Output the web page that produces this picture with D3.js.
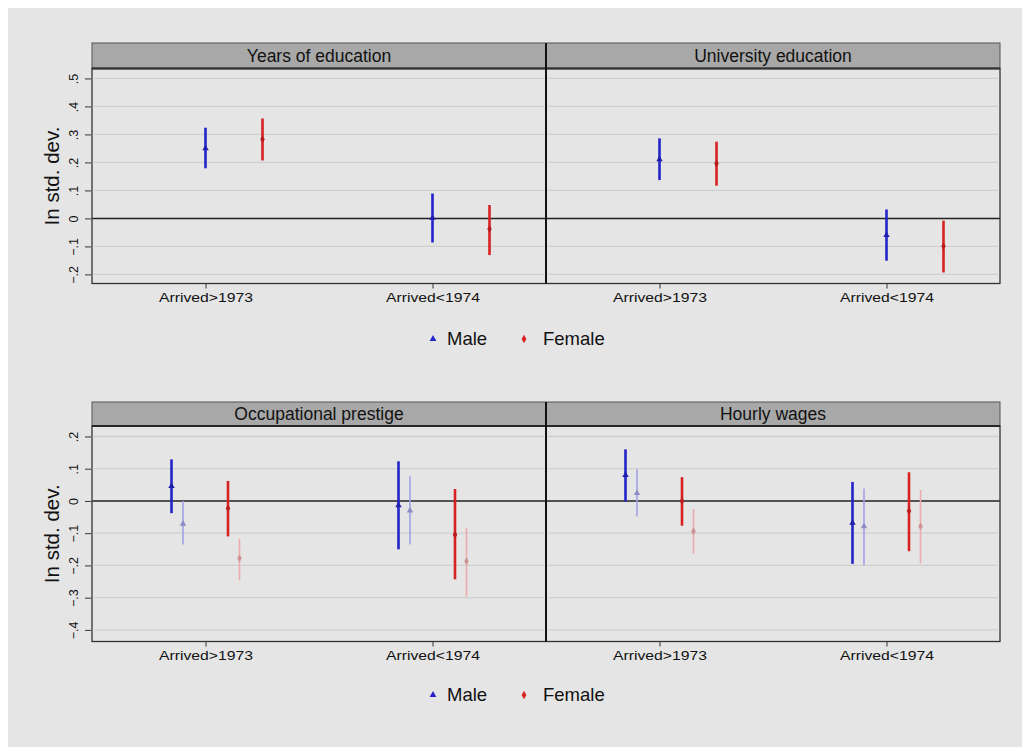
<!DOCTYPE html>
<html>
<head>
<meta charset="utf-8">
<script src="https://cdn.jsdelivr.net/npm/d3@7"></script>
<style>
  html, body { margin: 0; padding: 0; background: #fff; }
  svg { display: block; font-family: 'Liberation Sans', Arial, sans-serif; }
</style>
</head>
<body>
<svg id="chart" width="1022" height="747"></svg>
<script>
  'use strict';

  // categories and series
  var categories = ['Arrived>1973', 'Arrived<1974'];
  var topTitles = ['Years of education', 'University education'];
  var bottomTitles = ['Occupational prestige', 'Hourly wages'];
  var topSeries = ['Male', 'Female'];
  var bottomSeries = ['Male', 'Male (alt.)', 'Female', 'Female (alt.)'];
  var topTicks = [-0.2, -0.1, 0, 0.1, 0.2, 0.3, 0.4, 0.5];
  var bottomTicks = [-0.4, -0.3, -0.2, -0.1, 0, 0.1, 0.2];

  // [series, category, estimate, low, high]
  var yearsEducation = [
    ['Male', 'Arrived>1973', 0.250, 0.179, 0.324],
    ['Female', 'Arrived>1973', 0.283, 0.207, 0.357],
    ['Male', 'Arrived<1974', 0.002, -0.086, 0.089],
    ['Female', 'Arrived<1974', -0.038, -0.131, 0.048]
  ];
  var universityEducation = [
    ['Male', 'Arrived>1973', 0.211, 0.137, 0.286],
    ['Female', 'Arrived>1973', 0.196, 0.117, 0.274],
    ['Male', 'Arrived<1974', -0.060, -0.151, 0.032],
    ['Female', 'Arrived<1974', -0.099, -0.193, -0.008]
  ];
  var occupationalPrestige = [
    ['Male', 'Arrived>1973', 0.046, -0.038, 0.129],
    ['Male (alt.)', 'Arrived>1973', -0.071, -0.135, 0.000],
    ['Female', 'Arrived>1973', -0.023, -0.110, 0.062],
    ['Female (alt.)', 'Arrived>1973', -0.178, -0.246, -0.117],
    ['Male', 'Arrived<1974', -0.014, -0.150, 0.123],
    ['Male (alt.)', 'Arrived<1974', -0.030, -0.135, 0.077],
    ['Female', 'Arrived<1974', -0.105, -0.243, 0.037],
    ['Female (alt.)', 'Arrived<1974', -0.187, -0.297, -0.084]
  ];
  var hourlyWages = [
    ['Male', 'Arrived>1973', 0.080, -0.002, 0.160],
    ['Male (alt.)', 'Arrived>1973', 0.024, -0.048, 0.098],
    ['Female', 'Arrived>1973', 0.000, -0.077, 0.074],
    ['Female (alt.)', 'Arrived>1973', -0.094, -0.164, -0.025],
    ['Male', 'Arrived<1974', -0.068, -0.195, 0.059],
    ['Male (alt.)', 'Arrived<1974', -0.079, -0.199, 0.039],
    ['Female', 'Arrived<1974', -0.031, -0.156, 0.089],
    ['Female (alt.)', 'Arrived<1974', -0.079, -0.194, 0.034]
  ];

  var styles = {
    'Male': { color: '#2424c8', width: 2.6, shape: d3.symbolTriangle },
    'Female': { color: '#d82222', width: 2.6, shape: d3.symbolDiamond },
    'Male (alt.)': { color: '#a2a2e4', width: 1.6, shape: d3.symbolTriangle },
    'Female (alt.)': { color: '#ecaaaa', width: 1.6, shape: d3.symbolDiamond }
  };

  var svg = d3.select('#chart');
  svg.append('rect')
    .attr('x', 8).attr('y', 8).attr('width', 1014).attr('height', 739)
    .attr('fill', '#e5e5e5');

  var xLeft = 92, xMid = 546, xRight = 1000;

  function fmt(v) {
    if (Math.abs(v) < 1e-9) return '0';
    return (v < 0 ? '\u2212' : '') + '.' + Math.round(Math.abs(v) * 10);
  }

  function drawRow(opt) {
    var y = d3.scaleLinear().domain(opt.domain).range([opt.bottom, opt.top]);
    var g = svg.append('g');

    // header strip
    g.append('rect')
      .attr('x', xLeft).attr('y', opt.headTop)
      .attr('width', xRight - xLeft).attr('height', opt.top - opt.headTop)
      .attr('fill', '#a8a8a8').attr('stroke', '#555').attr('stroke-width', 1);
    g.append('line')
      .attr('x1', xLeft).attr('x2', xRight).attr('y1', opt.top).attr('y2', opt.top)
      .attr('stroke', '#111').attr('stroke-width', 2.2);

    opt.titles.forEach(function(t, i) {
      var x0 = i === 0 ? xLeft : xMid;
      var x1 = i === 0 ? xMid : xRight;
      g.append('text')
        .attr('x', (x0 + x1) / 2).attr('y', (opt.headTop + opt.top) / 2 + 6)
        .attr('text-anchor', 'middle').attr('font-size', 17.5)
        .attr('fill', '#111').text(t);

      var x = d3.scalePoint().domain(categories).range([x0, x1]).padding(0.5);

      // grid lines
      g.selectAll(null).data(opt.ticks.filter(function(d) { return d !== 0; }))
        .enter().append('line')
        .attr('x1', x0 + 2).attr('x2', x1 - 2)
        .attr('y1', function(d) { return y(d); }).attr('y2', function(d) { return y(d); })
        .attr('stroke', '#cfcfcf').attr('stroke-width', 1.3);
      g.append('line')
        .attr('x1', x0).attr('x2', x1).attr('y1', y(0)).attr('y2', y(0))
        .attr('stroke', '#222').attr('stroke-width', 1.5);

      // x axis
      var xAxis = d3.axisBottom(x).tickSize(5).tickPadding(4);
      var ax = g.append('g').attr('transform', 'translate(0,' + opt.bottom + ')').call(xAxis);
      ax.select('.domain').remove();
      ax.selectAll('line').attr('stroke', '#333');
      ax.selectAll('text').attr('font-size', 13.5).attr('fill', '#111')
        .attr('textLength', 94).attr('lengthAdjust', 'spacingAndGlyphs');

      // estimates
      var rows = opt.data[i];
      var marks = g.selectAll(null).data(rows).enter().append('g')
        .attr('transform', function(d) {
          return 'translate(' + (x(d[1]) + opt.offset(d[0])) + ',0)';
        });
      marks.append('line')
        .attr('y1', function(d) { return y(d[3]); })
        .attr('y2', function(d) { return y(d[4]); })
        .attr('stroke', function(d) { return styles[d[0]].color; })
        .attr('stroke-width', function(d) { return styles[d[0]].width; });
      marks.append('path')
        .attr('d', function(d) { return d3.symbol().type(styles[d[0]].shape).size(18)(); })
        .attr('transform', function(d) { return 'translate(0,' + y(d[2]) + ')'; })
        .attr('fill', function(d) { return d3.color(styles[d[0]].color).darker(0.4); });
    });

    // frame
    g.append('rect')
      .attr('x', xLeft).attr('y', opt.top)
      .attr('width', xRight - xLeft).attr('height', opt.bottom - opt.top)
      .attr('fill', 'none').attr('stroke', '#333').attr('stroke-width', 1.3);
    g.append('line')
      .attr('x1', xMid).attr('x2', xMid).attr('y1', opt.headTop).attr('y2', opt.bottom)
      .attr('stroke', '#111').attr('stroke-width', 2);

    // y axis
    var yAxis = d3.axisLeft(y).tickValues(opt.ticks).tickSize(6).tickFormat(fmt);
    var ay = g.append('g').attr('transform', 'translate(' + (xLeft - 1) + ',0)').call(yAxis);
    ay.select('.domain').remove();
    ay.selectAll('line').attr('stroke', '#333');
    ay.selectAll('text')
      .attr('font-size', 12.5).attr('fill', '#111')
      .attr('x', null).attr('dy', null)
      .attr('text-anchor', 'middle')
      .attr('transform', 'translate(-13,0) rotate(-90)');

    g.append('text')
      .attr('transform', 'translate(59,' + (opt.top + opt.bottom) / 2 + ') rotate(-90)')
      .attr('text-anchor', 'middle').attr('font-size', 20.5).attr('fill', '#111')
      .text('In std. dev.');

    // legend
    var leg = g.append('g').attr('transform', 'translate(0,' + opt.legendY + ')');
    [['Male', 433, 447], ['Female', 524, 543]].forEach(function(l) {
      leg.append('path')
        .attr('d', d3.symbol().type(styles[l[0]].shape).size(20)())
        .attr('transform', 'translate(' + l[1] + ',-6)')
        .attr('fill', styles[l[0]].color);
      leg.append('text').attr('x', l[2]).attr('y', 0)
        .attr('font-size', 18.5).attr('fill', '#111').text(l[0]);
    });
  }

  var topOffset = d3.scalePoint().domain(topSeries).range([0, 57]);
  var bottomOffsetPos = d3.scaleOrdinal().domain(bottomSeries).range([-34, -22.5, 22.5, 34]);

  drawRow({
    headTop: 43, top: 68.5, bottom: 283.5,
    domain: [-0.2325, 0.5355],
    ticks: topTicks, titles: topTitles,
    data: [yearsEducation, universityEducation],
    offset: topOffset, legendY: 345
  });
  drawRow({
    headTop: 402, top: 426, bottom: 641.5,
    domain: [-0.436, 0.2325],
    ticks: bottomTicks, titles: bottomTitles,
    data: [occupationalPrestige, hourlyWages],
    offset: bottomOffsetPos, legendY: 701
  });
</script>
</body>
</html>
